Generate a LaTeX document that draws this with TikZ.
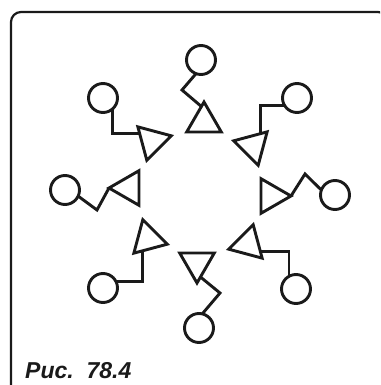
\documentclass[tikz,border=0pt]{standalone}
\usepackage{fontspec}
\setmainfont{Liberation Sans}
\usepackage{tikz}
\usetikzlibrary{shapes.geometric,calc}
\definecolor{ink}{HTML}{1A1A1A}

\begin{document}
\begin{tikzpicture}[x=1pt,y=-1pt,
    ring/.style={circle,draw=ink,line width=2.9pt,minimum size=29pt,inner sep=0pt,outer sep=0pt},
    gate/.style={regular polygon,regular polygon sides=3,draw=ink,line width=2.9pt,minimum size=40pt,inner sep=0pt,outer sep=0pt},
    wire/.style={draw=ink,line width=2.9pt}]
    \useasboundingbox (0,0) rectangle (380,385);
    \clip (0,0) rectangle (380,385);
    \draw[draw=ink,line width=2.2pt,rounded corners=10pt] (11,12) rectangle (388,400);
    % triangles
    \node[gate] (t1) at (204,122) {};
    \node[gate,rotate=-45] (t2) at (253,146) {};
    \node[gate,rotate=-90] (t3) at (271,196) {};
    \node[gate,rotate=-135] (t4) at (248,244) {};
    \node[gate,rotate=180] (t5) at (197,263) {};
    \node[gate,rotate=135] (t6) at (148,239) {};
    \node[gate,rotate=90] (t7) at (129,188) {};
    \node[gate,rotate=45] (t8) at (152,141) {};
    % circles
    \node[ring] (c1) at (201,60) {};
    \node[ring] (c2) at (297,98) {};
    \node[ring] (c3) at (335,195) {};
    \node[ring] (c4) at (296,289) {};
    \node[ring] (c5) at (199,328) {};
    \node[ring] (c6) at (103,288) {};
    \node[ring] (c7) at (65,190) {};
    \node[ring] (c8) at (103,98) {};
    % wires
    \draw[wire] (c1.250) -- (182,90) -- ($(t1.corner 1)!.15!(t1.corner 2)$);
    \draw[wire] (c2.210) -| ($(t2.corner 1)!.2!(t2.corner 2)$);
    \draw[wire] (t3.corner 1) -- (305,174) -- (c3.160);
    \draw[wire] ($(t4.corner 1)!.2!(t4.corner 2)$) -| (c4.119);
    \draw[wire] ($(t5.corner 1)!.2!(t5.corner 2)$) -- (220,293) -- (c5.77);
    \draw[wire] ($(t6.corner 1)!.25!(t6.corner 2)$) |- (c6.28);
    \draw[wire] (c7.-25) -- (97,210) -- (t7.corner 1);
    \draw[wire] (c8.-51) |- ($(t8.corner 1)!.2!(t8.corner 2)$);
    \node[font=\bfseries\itshape\fontsize{23}{23}\selectfont,anchor=base west,text=ink,inner sep=0pt] (cap) at (25,378) {Рис.\ \ 78.4};
\end{tikzpicture}
\end{document}
